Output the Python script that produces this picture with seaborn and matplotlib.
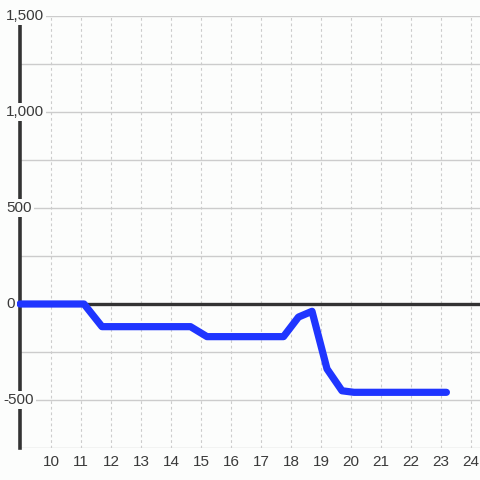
import numpy as np
import pandas as pd
import seaborn as sns
import matplotlib.pyplot as plt

# Series values
x_vals = [8.967, 11.1, 11.7, 14.65, 15.2, 17.75, 18.25, 18.7, 19.2, 19.7, 20.1, 23.18]
y_vals = [0, 0, -118, -118, -170, -170, -68, -38, -338, -452, -460, -460]

x_ticks = list(range(10, 25))
y_ticks = [-500, 0, 500, 1000, 1500]
y_labels = ["-500", "0", "500", "1,000", "1,500"]
y_minor = [-750, -250, 250, 750, 1250]

df = pd.DataFrame({"x": x_vals, "y": y_vals})

bg = "#fcfdfc"
sns.set_style("white")
plt.rcParams["font.family"] = ["Liberation Sans", "DejaVu Sans"]

fig = plt.figure(figsize=(4.8, 4.8), dpi=100, facecolor=bg)
ax = fig.add_axes([20 / 480, 32 / 480, 460 / 480, 432 / 480])
ax.set_facecolor(bg)

ax.set_xlim(8.967, 24.3)
ax.set_ylim(-750, 1500)

# grid
for v in y_ticks + y_minor:
    ax.axhline(v, color="#cccccc", lw=1, zorder=0)
for v in x_ticks:
    ax.axvline(v, color="#cccccc", lw=0.8, ls=(0, (2.5, 2.5)), zorder=0)

ax.axhline(0, color="#333333", lw=2.4, zorder=1)

sns.lineplot(data=df, x="x", y="y", ax=ax, color="#1f35ff", lw=5.2,
             zorder=3, clip_on=False)

for s in ["top", "right", "bottom"]:
    ax.spines[s].set_visible(False)
ax.spines["left"].set_color("#333333")
ax.spines["left"].set_linewidth(2.6)
ax.spines["left"].set_zorder(2)

ax.set_xticks(x_ticks)
ax.set_xticklabels([str(t) for t in x_ticks])
ax.tick_params(axis="x", length=0, pad=5, labelsize=11, labelcolor="#3a3a3a")
ax.set_yticks([])

# y labels sit over the spine, left aligned near the figure edge
for v, lab in zip(y_ticks, y_labels):
    x0 = 8.40 if lab.startswith("-") else 8.50
    ax.text(x0, v, lab, ha="left", va="center", fontsize=11, color="#3a3a3a",
            zorder=5, clip_on=False,
            bbox=dict(facecolor=bg, edgecolor="none", pad=1.5))

ax.set_xlabel("")
ax.set_ylabel("")

plt.savefig("out.png", dpi=100, facecolor=bg)
